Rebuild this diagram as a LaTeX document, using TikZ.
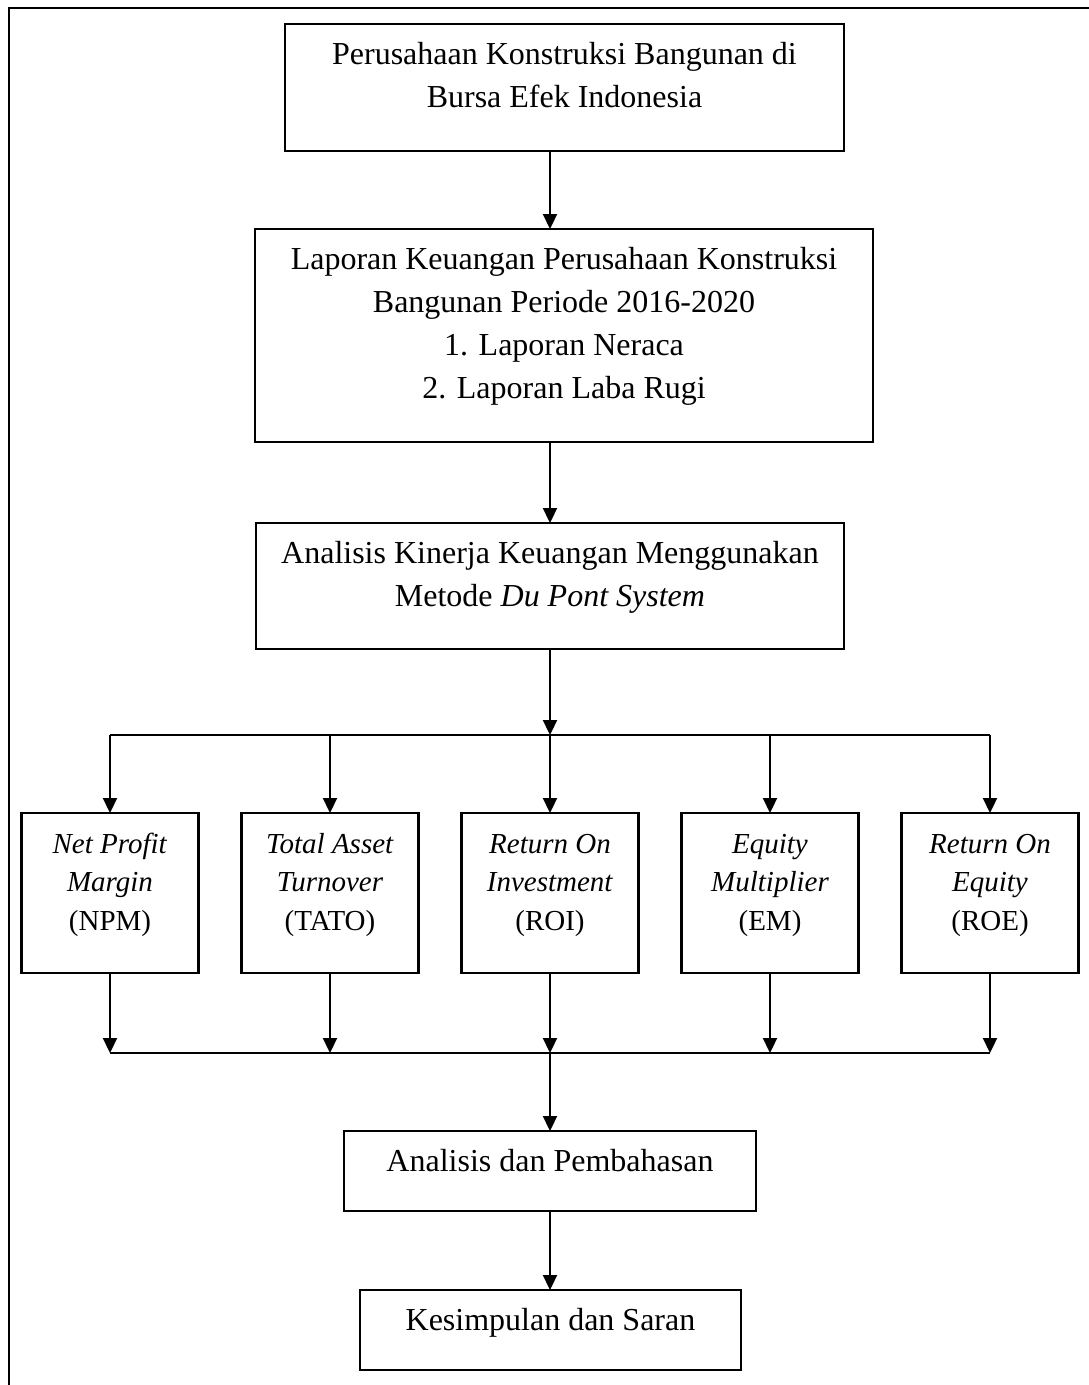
\documentclass[tikz,border=0pt]{standalone}
\usepackage{fontspec}
\setmainfont{Liberation Serif}
\usetikzlibrary{arrows.meta}
\newcommand{\bigtxt}{\fontsize{32pt}{43pt}\selectfont}
\newcommand{\smalltxt}{\fontsize{29pt}{38.5pt}\selectfont}
\newcommand{\bigcontent}[3]{\parbox[t][#2][t]{#1}{\bigtxt\centering\rule{0pt}{40pt}#3\par}}
\newcommand{\smallcontent}[1]{\parbox[t][160pt][t]{177pt}{\smalltxt\centering\rule{0pt}{40pt}#1\par}}
\tikzset{
  boxnode/.style={draw, line width=2.2pt, inner sep=0pt, outer sep=0pt, anchor=north west},
  smallnode/.style={draw, line width=2.2pt, inner sep=0pt, outer sep=0pt, anchor=north},
  plainline/.style={line width=2.2pt},
  arr/.style={line width=2.2pt, -{Triangle[length=15pt,width=14pt]}},
  framestyle/.style={line width=2.2pt, line join=miter}
}
\begin{document}
\begin{tikzpicture}[x=1pt, y=-1pt]
\useasboundingbox (0,0) rectangle (1089,1385);
% outer frame (open at bottom and right)
\coordinate (fa) at (9,1385);
\coordinate (fb) at (9,8);
\coordinate (fc) at (1089,8);
\draw[framestyle] (fa) -- (fb) -- (fc);

\node[boxnode] (b1) at (285,24) {\bigcontent{559pt}{127pt}{Perusahaan Konstruksi Bangunan di\\Bursa Efek Indonesia}};
\node[boxnode] (b2) at (255,229) {\bigcontent{618pt}{213pt}{Laporan Keuangan Perusahaan Konstruksi\\Bangunan Periode 2016-2020\\1. Laporan Neraca\\2. Laporan Laba Rugi}};
\node[boxnode] (b3) at (256,523) {\bigcontent{588pt}{126pt}{Analisis Kinerja Keuangan Menggunakan\\Metode \textit{Du Pont System}}};

\node[smallnode] (npm) at (110,813) {\smallcontent{\textit{Net Profit}\\\textit{Margin}\\(NPM)}};
\node[smallnode] (tato) at (330,813) {\smallcontent{\textit{Total Asset}\\\textit{Turnover}\\(TATO)}};
\node[smallnode] (roi) at (550,813) {\smallcontent{\textit{Return On}\\\textit{Investment}\\(ROI)}};
\node[smallnode] (em) at (770,813) {\smallcontent{\textit{Equity}\\\textit{Multiplier}\\(EM)}};
\node[smallnode] (roe) at (990,813) {\smallcontent{\textit{Return On}\\\textit{Equity}\\(ROE)}};

\node[boxnode] (b4) at (344,1131) {\bigcontent{412pt}{80pt}{Analisis dan Pembahasan}};
\node[boxnode] (b5) at (360,1290) {\bigcontent{381pt}{80pt}{Kesimpulan dan Saran}};

\coordinate (j1) at (550,735);
\coordinate (j1l) at (110,735);
\coordinate (j1r) at (990,735);
\coordinate (j2) at (550,1053);
\coordinate (j2l) at (110,1053);
\coordinate (j2r) at (990,1053);

\draw[arr] (b1.south -| j1) -- (b2.north -| j1);
\draw[arr] (b2.south -| j1) -- (b3.north -| j1);
\draw[arr] (b3.south -| j1) -- (j1);
\draw[plainline] (j1l) -- (j1r);
\foreach \s in {npm,tato,roi,em,roe}{
  \draw[arr] (j1 -| \s.north) -- (\s.north);
  \draw[arr] (\s.south) -- (j2 -| \s.south);
}
\draw[plainline] (j2l) -- (j2r);
\draw[arr] (j2) -- (b4.north -| j2);
\draw[arr] (b4.south -| j2) -- (b5.north -| j2);
\end{tikzpicture}
\end{document}
